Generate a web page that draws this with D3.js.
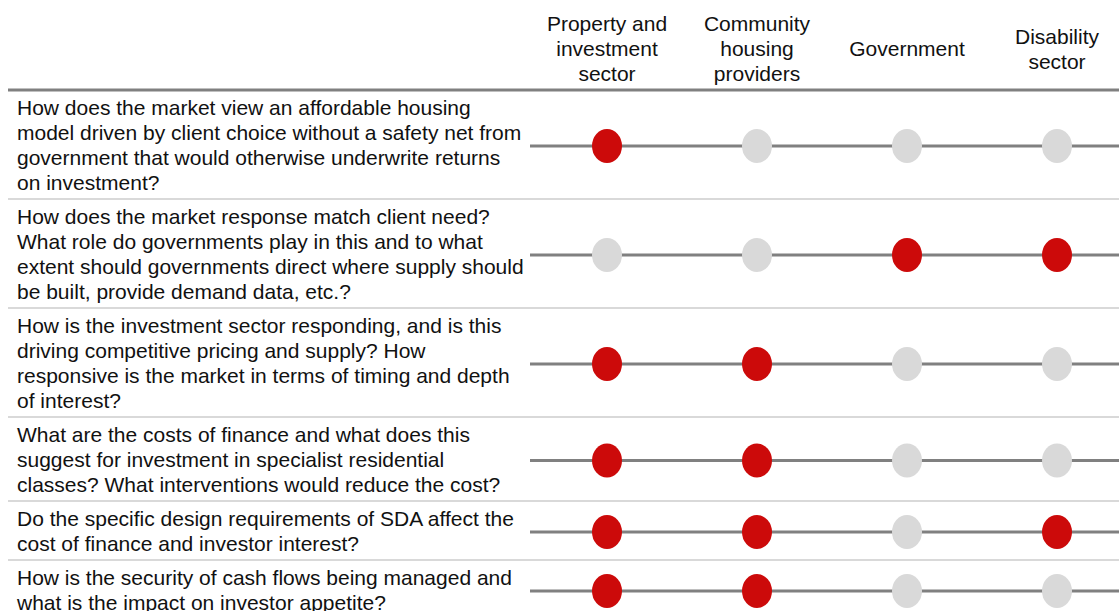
<!DOCTYPE html>
<html>
<head>
<meta charset="utf-8">
<script src="https://cdn.jsdelivr.net/npm/d3@7"></script>
<style>
  body { margin: 0; background: #fff; }
  svg text { font-family: "Liberation Sans", Arial, sans-serif; fill: #111; }
</style>
</head>
<body>
<div id="chart"></div>
<script>
// column headers (stakeholder groups), one array of lines each
var sectors = ["Property and investment sector", "Community housing providers", "Government", "Disability sector"];
var sectorLines = [
  ["Property and", "investment", "sector"],
  ["Community", "housing", "providers"],
  ["Government"],
  ["Disability", "sector"]
];

// questions, already broken into lines as in the picture
var questions = [
  ["How does the market view an affordable housing", "model driven by client choice without a safety net from", "government that would otherwise underwrite returns", "on investment?"],
  ["How does the market response match client need?", "What role do governments play in this and to what", "extent should governments direct where supply should", "be built, provide demand data, etc.?"],
  ["How is the investment sector responding, and is this", "driving competitive pricing and supply? How", "responsive is the market in terms of timing and depth", "of interest?"],
  ["What are the costs of finance and what does this", "suggest for investment in specialist residential", "classes? What interventions would reduce the cost?"],
  ["Do the specific design requirements of SDA affect the", "cost of finance and investor interest?"],
  ["How is the security of cash flows being managed and", "what is the impact on investor appetite?"]
];

// 1 = relevant (red), 0 = not relevant (grey); one array per question
var relevance = [
  [1, 0, 0, 0],
  [0, 0, 1, 1],
  [1, 1, 0, 0],
  [1, 1, 0, 0],
  [1, 1, 0, 1],
  [1, 1, 0, 0]
];

var width = 1119, height = 611;
var headerBottom = 90, lineH = 25, rowPad = 9;

var svg = d3.select("#chart").append("svg")
    .attr("width", width)
    .attr("height", height);

var x = d3.scaleBand().domain(sectors).range([532, 1132]);
var color = d3.scaleOrdinal().domain([0, 1]).range(["#d9d9d9", "#cc0a0a"]);

// row positions from line counts
var rows = [];
var rowY = headerBottom;
questions.forEach(function(q, i) {
  var h = q.length * lineH + rowPad;
  rows.push({ lines: q, top: rowY, h: h, vals: relevance[i], mid: rowY + h / 2 + 1.5 });
  rowY += h;
});

// header labels
var head = svg.append("g").selectAll("text")
    .data(sectors)
    .enter().append("text")
    .attr("text-anchor", "middle")
    .style("font-size", "21px");
head.each(function(d, i) {
  var lines = sectorLines[i];
  var y0 = 49 - (lines.length - 1) * lineH / 2;
  d3.select(this).selectAll("tspan")
    .data(lines)
    .enter().append("tspan")
    .attr("x", x(d) + x.bandwidth() / 2)
    .attr("y", function(l, j) { return y0 + j * lineH; })
    .attr("dy", "0.35em")
    .text(function(l) { return l; });
});

// row separators
svg.append("g").selectAll("line")
    .data(rows.slice(1))
    .enter().append("line")
    .attr("x1", 8).attr("x2", width)
    .attr("y1", function(d) { return d.top; })
    .attr("y2", function(d) { return d.top; })
    .attr("stroke", "#d9d9d9")
    .attr("stroke-width", 2);

svg.append("line")
    .attr("x1", 8).attr("x2", width)
    .attr("y1", headerBottom).attr("y2", headerBottom)
    .attr("stroke", "#808080")
    .attr("stroke-width", 3);

var row = svg.append("g").selectAll("g")
    .data(rows)
    .enter().append("g");

// question text
row.append("text")
    .style("font-size", "21px")
    .each(function(d) {
      d3.select(this).selectAll("tspan")
        .data(d.lines)
        .enter().append("tspan")
        .attr("x", 17)
        .attr("y", function(l, j) { return d.top + 18 + j * lineH; })
        .attr("dy", "0.35em")
        .text(function(l) { return l; });
    });

// track line
row.append("line")
    .attr("x1", 530).attr("x2", width)
    .attr("y1", function(d) { return d.mid; })
    .attr("y2", function(d) { return d.mid; })
    .attr("stroke", "#808080")
    .attr("stroke-width", 3);

// dots
row.selectAll("ellipse")
    .data(function(d) {
      return d.vals.map(function(v, k) { return { v: v, sector: sectors[k], cy: d.mid }; });
    })
    .enter().append("ellipse")
    .attr("cx", function(d) { return x(d.sector) + x.bandwidth() / 2; })
    .attr("cy", function(d) { return d.cy; })
    .attr("rx", 15)
    .attr("ry", 17)
    .attr("fill", function(d) { return color(d.v); });
</script>
</body>
</html>
